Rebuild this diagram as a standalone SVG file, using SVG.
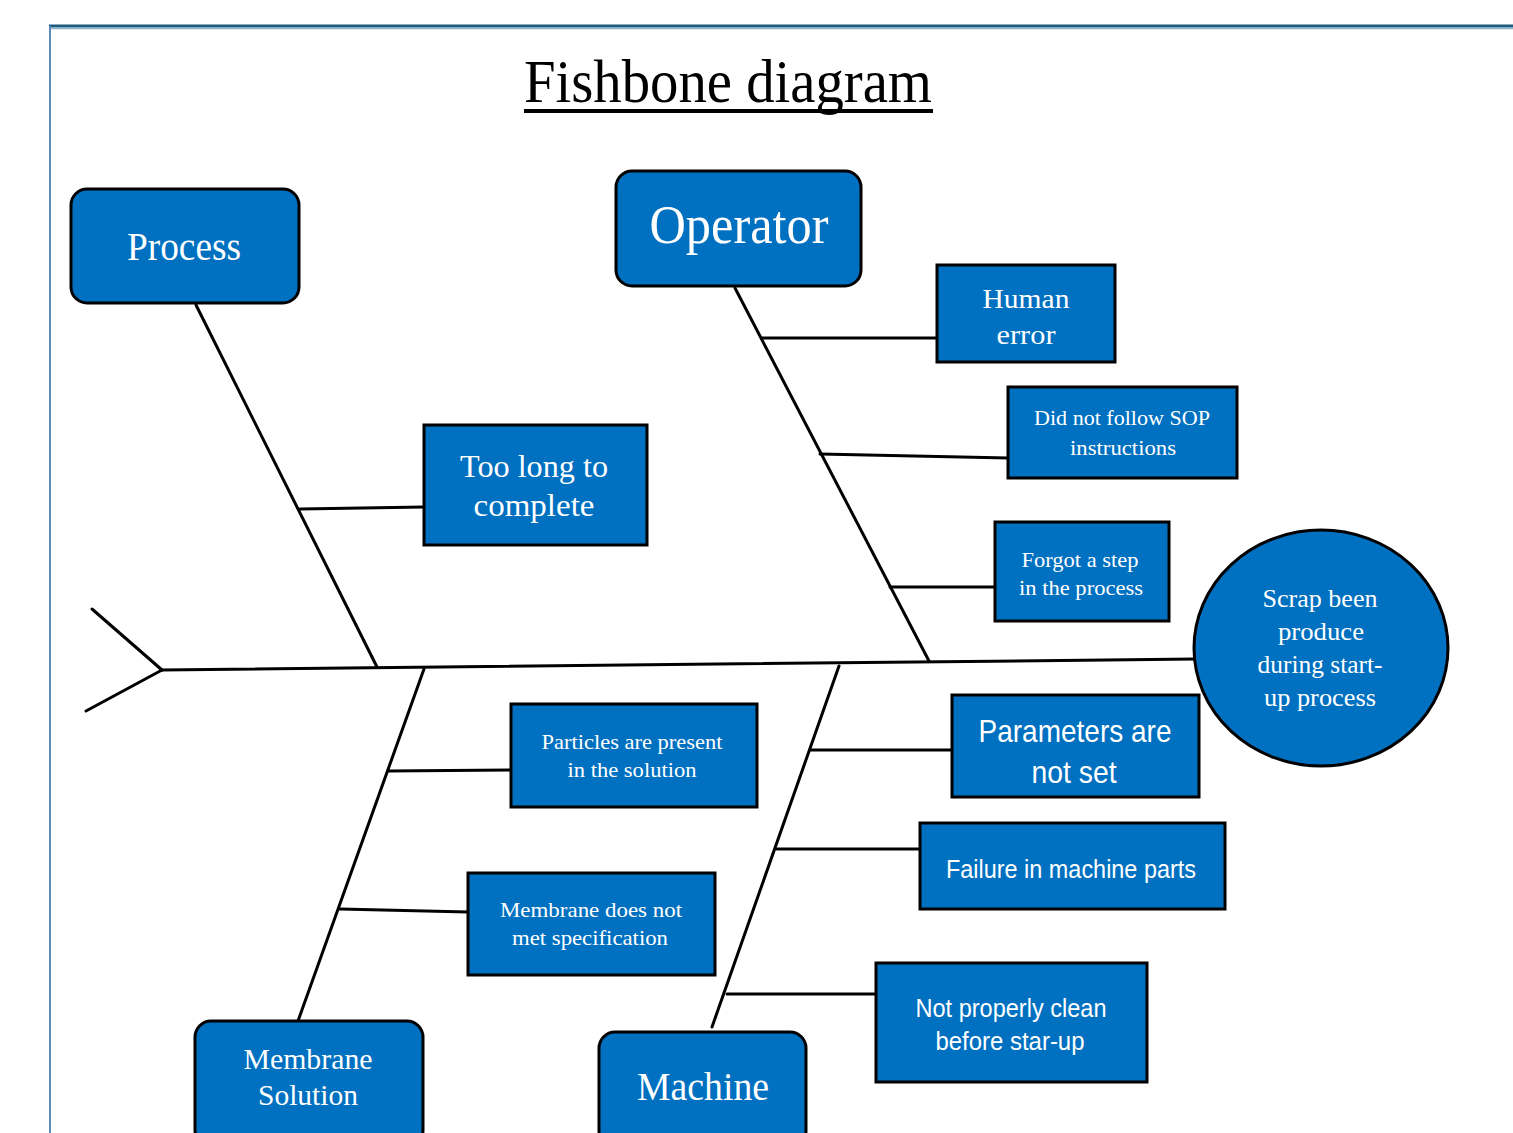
<svg xmlns="http://www.w3.org/2000/svg" width="1513" height="1133" viewBox="0 0 1513 1133">
<style>
.box{fill:#0070c0;stroke:#000;stroke-width:3}
.t{fill:#fff;font-family:"Liberation Serif","Times New Roman",serif;text-anchor:middle}
.s{fill:#fff;font-family:"Liberation Sans",Arial,sans-serif;text-anchor:middle}
.ln{stroke:#000;stroke-width:3;fill:none;stroke-linecap:round}
</style>
<rect x="0" y="0" width="1513" height="1133" fill="#fff"/>
<g id="frame">
<line x1="49" y1="26" x2="1513" y2="26" stroke="#1d5d80" stroke-width="3"/>
<line x1="49" y1="28.5" x2="1513" y2="28.5" stroke="#8fb3cc" stroke-width="1.5"/>
<line x1="50" y1="26" x2="50" y2="1133" stroke="#5b8db8" stroke-width="2"/>
</g>
<g id="title">
<text x="728" y="102" font-family="'Liberation Serif','Times New Roman',serif" font-size="62" fill="#000" text-anchor="middle" textLength="408" lengthAdjust="spacingAndGlyphs">Fishbone diagram</text>
<line x1="524" y1="111" x2="933" y2="111" stroke="#000" stroke-width="4"/>
</g>
<g id="connectors">
<line class="ln" x1="162" y1="670" x2="1195" y2="659"/>
<line class="ln" x1="92" y1="609" x2="162" y2="670"/>
<line class="ln" x1="86" y1="711" x2="162" y2="670"/>
<line class="ln" x1="196" y1="305" x2="377" y2="667"/>
<line class="ln" x1="300" y1="509" x2="424" y2="507"/>
<line class="ln" x1="735" y1="288" x2="929" y2="661"/>
<line class="ln" x1="762" y1="338" x2="937" y2="338"/>
<line class="ln" x1="820" y1="454" x2="1008" y2="458"/>
<line class="ln" x1="890" y1="587" x2="995" y2="587"/>
<line class="ln" x1="424" y1="669" x2="298" y2="1021" stroke-width="4"/>
<line class="ln" x1="388" y1="771" x2="511" y2="770"/>
<line class="ln" x1="340" y1="909" x2="468" y2="912"/>
<line class="ln" x1="839" y1="666" x2="712" y2="1027"/>
<line class="ln" x1="810" y1="750" x2="952" y2="750"/>
<line class="ln" x1="777" y1="849" x2="920" y2="849"/>
<line class="ln" x1="727" y1="994" x2="876" y2="994"/>
</g>
<g id="process">
<rect class="box" x="71" y="189" width="228" height="114" rx="16"/>
<text class="t" x="184" y="260" font-size="40" textLength="114" lengthAdjust="spacingAndGlyphs">Process</text>
</g>
<g id="operator">
<rect class="box" x="616" y="171" width="245" height="115" rx="16"/>
<text class="t" x="739" y="243" font-size="54" textLength="179" lengthAdjust="spacingAndGlyphs">Operator</text>
</g>
<g id="human-error">
<rect class="box" x="937" y="265" width="178" height="97"/>
<text class="t" x="1026" y="308" font-size="28" textLength="87" lengthAdjust="spacingAndGlyphs">Human</text>
<text class="t" x="1026" y="344" font-size="28" textLength="59" lengthAdjust="spacingAndGlyphs">error</text>
</g>
<g id="sop">
<rect class="box" x="1008" y="387" width="229" height="91"/>
<text class="t" x="1122" y="425" font-size="22" textLength="176" lengthAdjust="spacingAndGlyphs">Did not follow SOP</text>
<text class="t" x="1123" y="455" font-size="22" textLength="106" lengthAdjust="spacingAndGlyphs">instructions</text>
</g>
<g id="forgot">
<rect class="box" x="995" y="522" width="174" height="99"/>
<text class="t" x="1080" y="567" font-size="22" textLength="117" lengthAdjust="spacingAndGlyphs">Forgot a step</text>
<text class="t" x="1081" y="595" font-size="22" textLength="124" lengthAdjust="spacingAndGlyphs">in the process</text>
</g>
<g id="too-long">
<rect class="box" x="424" y="425" width="223" height="120"/>
<text class="t" x="534" y="477" font-size="32" textLength="148" lengthAdjust="spacingAndGlyphs">Too long to</text>
<text class="t" x="534" y="516" font-size="32" textLength="121" lengthAdjust="spacingAndGlyphs">complete</text>
</g>
<g id="effect">
<ellipse class="box" cx="1321" cy="648" rx="127" ry="118"/>
<text class="t" x="1320" y="607" font-size="26" textLength="115" lengthAdjust="spacingAndGlyphs">Scrap been</text>
<text class="t" x="1321" y="640" font-size="26" textLength="86" lengthAdjust="spacingAndGlyphs">produce</text>
<text class="t" x="1320" y="673" font-size="26" textLength="125" lengthAdjust="spacingAndGlyphs">during start-</text>
<text class="t" x="1320" y="706" font-size="26" textLength="112" lengthAdjust="spacingAndGlyphs">up process</text>
</g>
<g id="parameters">
<rect class="box" x="952" y="695" width="247" height="102"/>
<text class="s" x="1075" y="742" font-size="32" textLength="193" lengthAdjust="spacingAndGlyphs">Parameters are</text>
<text class="s" x="1074" y="783" font-size="32" textLength="85" lengthAdjust="spacingAndGlyphs">not set</text>
</g>
<g id="failure">
<rect class="box" x="920" y="823" width="305" height="86"/>
<text class="s" x="1071" y="878" font-size="26" textLength="250" lengthAdjust="spacingAndGlyphs">Failure in machine parts</text>
</g>
<g id="not-clean">
<rect class="box" x="876" y="963" width="271" height="119"/>
<text class="s" x="1011" y="1017" font-size="26" textLength="191" lengthAdjust="spacingAndGlyphs">Not properly clean</text>
<text class="s" x="1010" y="1050" font-size="26" textLength="149" lengthAdjust="spacingAndGlyphs">before star-up</text>
</g>
<g id="particles">
<rect class="box" x="511" y="704" width="246" height="103"/>
<text class="t" x="632" y="749" font-size="22" textLength="181" lengthAdjust="spacingAndGlyphs">Particles are present</text>
<text class="t" x="632" y="777" font-size="22" textLength="129" lengthAdjust="spacingAndGlyphs">in the solution</text>
</g>
<g id="membrane-spec">
<rect class="box" x="468" y="873" width="247" height="102"/>
<text class="t" x="591" y="917" font-size="22" textLength="182" lengthAdjust="spacingAndGlyphs">Membrane does not</text>
<text class="t" x="590" y="945" font-size="22" textLength="156" lengthAdjust="spacingAndGlyphs">met specification</text>
</g>
<g id="membrane-solution">
<rect class="box" x="195" y="1021" width="228" height="125" rx="16" stroke-width="4"/>
<text class="t" x="308" y="1069" font-size="30" textLength="129" lengthAdjust="spacingAndGlyphs">Membrane</text>
<text class="t" x="308" y="1105" font-size="30" textLength="100" lengthAdjust="spacingAndGlyphs">Solution</text>
</g>
<g id="machine">
<rect class="box" x="599" y="1032" width="207" height="115" rx="16"/>
<text class="t" x="703" y="1100" font-size="40" textLength="132" lengthAdjust="spacingAndGlyphs">Machine</text>
</g>
</svg>
